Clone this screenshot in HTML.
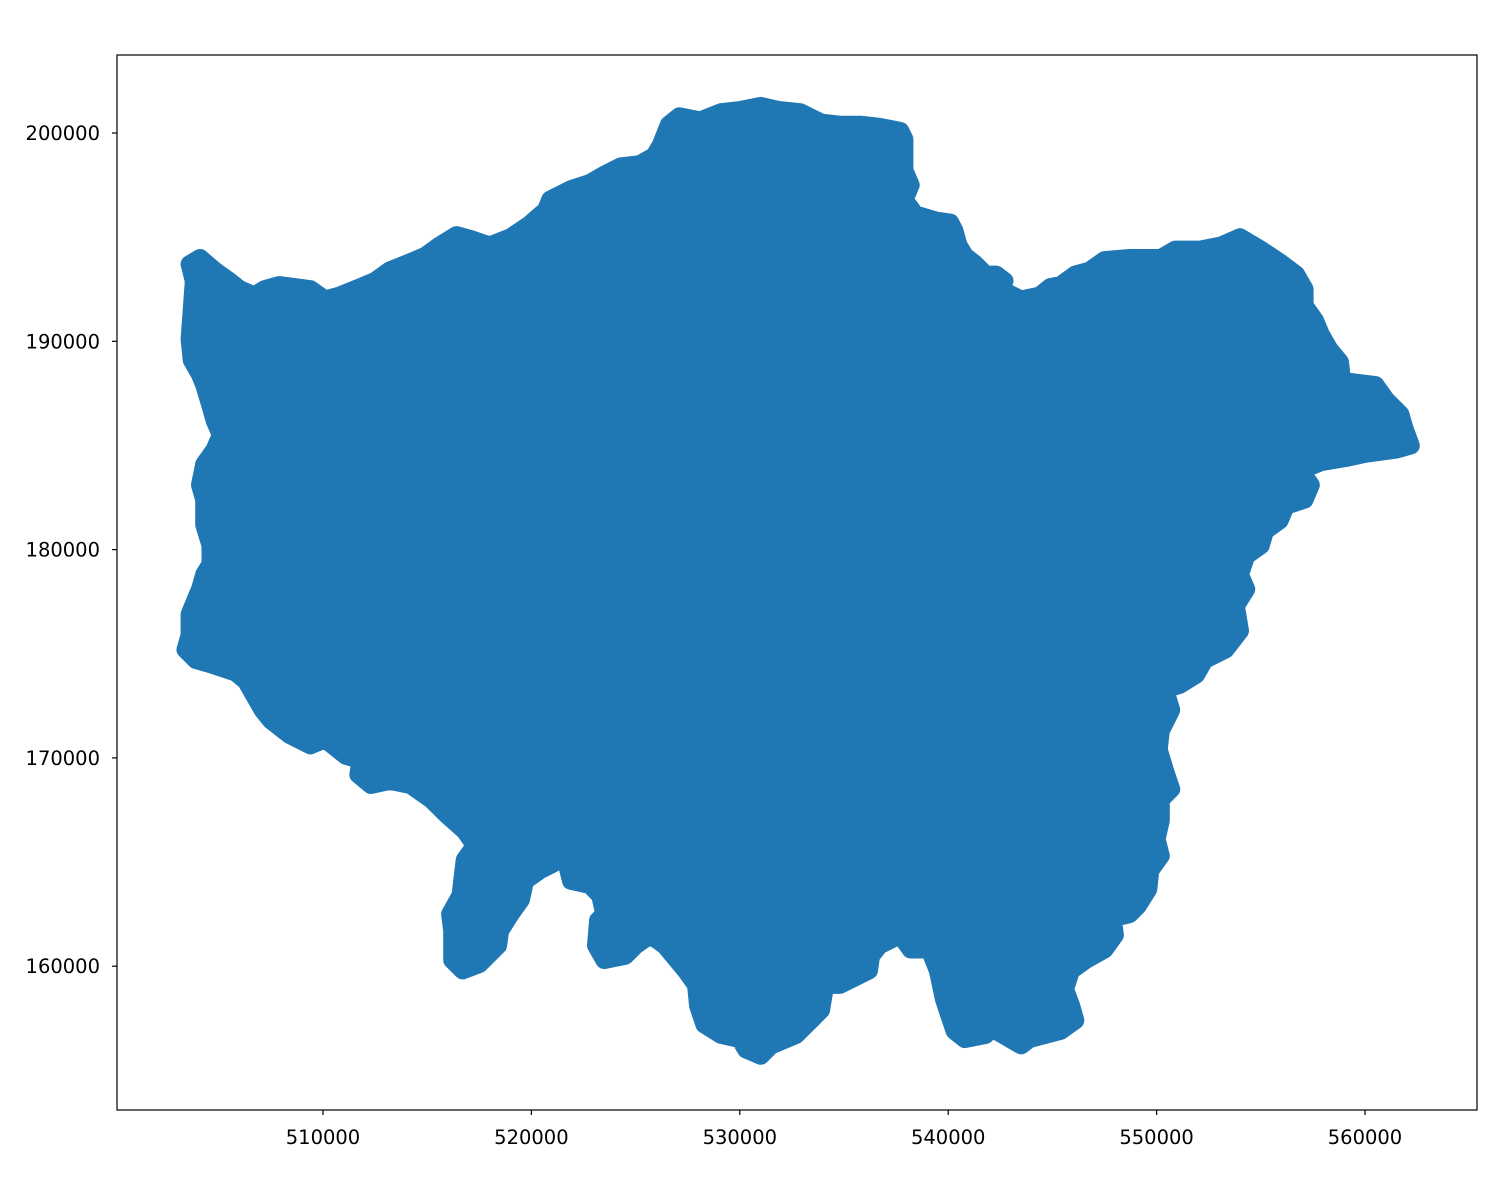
<!DOCTYPE html>
<html><head><meta charset="utf-8">
<style>
html,body{margin:0;padding:0;background:#fff;}
svg{display:block;font-family:"DejaVu Sans","Liberation Sans",sans-serif;}
</style></head>
<body>
<svg id="chart" width="1500" height="1200" viewBox="0 0 1500 1200" xmlns="http://www.w3.org/2000/svg">
<rect x="0" y="0" width="1500" height="1200" fill="#fff"/>
<g id="plot"></g>
<g id="axes"></g>
</svg>
<script>
// outline of London boundary, in km (easting, northing)
const eastingKm = [526.6,527.1,528.1,529.1,530.0,531.0,531.9,532.9,533.9,534.8,535.8,536.7,537.7,537.9,537.9,538.2,537.9,538.4,539.4,540.1,540.3,540.5,540.8,541.3,541.8,542.3,542.7,542.5,543.5,544.4,544.9,545.4,546.1,546.8,547.5,548.7,550.2,550.9,552.1,553.1,554.0,555.0,555.9,556.7,557.1,557.1,557.6,557.9,558.3,558.8,558.9,560.5,561.0,561.7,561.9,562.2,561.5,560.0,559.1,557.9,556.9,557.4,557.1,556.2,555.9,555.2,555.0,554.3,554.0,554.3,553.8,554.0,553.3,552.3,551.9,551.1,550.4,550.7,550.2,550.1,550.4,550.7,550.2,550.2,550.0,550.2,549.7,549.6,549.1,548.7,547.9,548.0,547.5,546.6,545.9,545.6,545.9,546.1,545.4,543.9,543.5,542.3,542.0,541.8,540.8,540.3,539.8,539.5,539.1,538.2,537.7,536.7,536.3,536.2,534.8,534.1,533.9,533.4,532.7,531.5,531.0,530.3,530.0,529.1,528.3,528.0,527.9,527.4,526.4,525.7,525.0,524.5,523.5,523.1,523.2,523.5,523.3,522.8,521.9,521.6,521.0,520.4,519.7,519.5,519.0,518.5,518.4,517.5,516.7,516.2,516.2,516.1,516.6,516.8,517.3,516.8,515.9,515.2,514.2,513.2,512.3,511.7,511.8,511.1,510.1,509.4,508.4,507.5,507.1,506.7,506.3,505.8,504.6,503.9,503.4,503.6,503.6,504.1,504.3,504.6,504.6,504.3,504.3,504.1,504.3,504.8,505.1,504.8,504.6,504.3,504.1,503.7,503.6,503.7,503.8,503.6,504.1,504.8,505.5,506.0,506.7,507.2,507.9,509.4,510.1,510.8,511.8,512.5,513.2,514.2,514.9,515.6,516.4,517.1,518.0,519.0,519.9,520.7,520.9,521.9,522.8,523.5,524.3,525.2,525.9,526.2];
const northingKm = [200.4,200.8,200.6,201.0,201.1,201.3,201.1,201.0,200.5,200.4,200.4,200.3,200.1,199.7,198.2,197.5,196.8,196.1,195.8,195.7,195.3,194.6,194.1,193.7,193.2,193.2,192.9,192.5,192.0,192.2,192.6,192.7,193.2,193.4,193.9,194.0,194.0,194.4,194.4,194.6,195.0,194.4,193.8,193.2,192.5,191.7,191.0,190.3,189.6,189.0,188.1,187.9,187.2,186.5,185.8,185.0,184.8,184.6,184.4,184.2,183.8,183.1,182.4,182.1,181.4,180.9,180.2,179.7,178.8,178.1,177.3,176.1,175.2,174.7,174.0,173.5,173.3,172.3,171.3,170.4,169.4,168.5,168.0,167.0,166.1,165.3,164.6,163.7,162.9,162.5,162.3,161.5,160.8,160.3,159.8,158.9,158.1,157.4,156.9,156.5,156.2,156.9,157.9,156.7,156.5,156.9,158.4,159.8,160.8,160.8,161.5,161.0,160.5,159.8,159.1,159.1,157.9,157.4,156.7,156.2,155.7,156.0,156.5,156.7,157.2,158.1,159.1,159.8,161.0,161.5,161.0,160.5,160.3,161.0,162.2,162.5,163.4,163.9,164.1,165.3,164.9,164.6,164.1,163.2,162.5,161.7,161.0,160.1,159.8,160.3,161.7,162.5,163.4,165.1,165.8,166.5,167.3,168.0,168.7,168.9,168.7,169.2,169.9,170.1,170.9,170.6,171.1,171.8,172.3,173.0,173.7,174.1,174.5,174.7,175.2,175.9,176.9,178.1,178.8,179.3,180.2,181.2,182.4,183.1,184.1,184.8,185.5,186.2,186.9,187.9,188.4,189.1,190.1,191.5,192.9,193.7,194.0,193.4,192.9,192.5,192.2,192.5,192.7,192.5,192.0,192.2,192.6,192.9,193.4,193.8,194.1,194.6,195.1,194.9,194.6,195.0,195.6,196.3,196.8,197.3,197.6,198.0,198.4,198.5,198.9,199.4];
const xTicks = [510000,520000,530000,540000,550000,560000];
const yTicks = [160000,170000,180000,190000,200000];

const NS = "http://www.w3.org/2000/svg";
const AX = {left:117, right:1477, top:55, bottom:1110};
function xs(m){ return 323 + (m - 510000) * 0.02084; }
function ys(m){ return 133 - (m - 200000) * 0.02083; }

const plot = document.getElementById('plot');
const axes = document.getElementById('axes');

let d = '';
for (let i = 0; i < eastingKm.length; i++) {
  d += (i ? 'L' : 'M') + xs(eastingKm[i]*1000).toFixed(1) + ',' + ys(northingKm[i]*1000).toFixed(1);
}
d += 'Z';
const poly = document.createElementNS(NS,'path');
poly.setAttribute('d', d);
poly.setAttribute('fill', '#1f77b4');
poly.setAttribute('stroke', '#1f77b4');
poly.setAttribute('stroke-width', '18');
poly.setAttribute('stroke-linejoin', 'round');


plot.appendChild(poly);

const frame = document.createElementNS(NS,'rect');
frame.setAttribute('x', AX.left); frame.setAttribute('y', AX.top);
frame.setAttribute('width', AX.right-AX.left); frame.setAttribute('height', AX.bottom-AX.top);
frame.setAttribute('fill','none'); frame.setAttribute('stroke','#000'); frame.setAttribute('stroke-width','1.2');


axes.appendChild(frame);

xTicks.forEach(v => {
  const x = xs(v);
  const t = document.createElementNS(NS,'line');
  t.setAttribute('x1',x); t.setAttribute('x2',x); t.setAttribute('y1',AX.bottom); t.setAttribute('y2',AX.bottom+5);
  t.setAttribute('stroke','#000'); t.setAttribute('stroke-width','1.2');
  
  
  axes.appendChild(t);
  const l = document.createElementNS(NS,'text');
  l.setAttribute('x',x); l.setAttribute('y',AX.bottom+34);
  l.setAttribute('text-anchor','middle'); l.setAttribute('font-size','19.5');
  l.textContent = v;
  
  
  axes.appendChild(l);
});
yTicks.forEach(v => {
  const y = ys(v);
  const t = document.createElementNS(NS,'line');
  t.setAttribute('x1',AX.left-5); t.setAttribute('x2',AX.left); t.setAttribute('y1',y); t.setAttribute('y2',y);
  t.setAttribute('stroke','#000'); t.setAttribute('stroke-width','1.2');
  
  
  axes.appendChild(t);
  const l = document.createElementNS(NS,'text');
  l.setAttribute('x',AX.left-17); l.setAttribute('y',y+7);
  l.setAttribute('text-anchor','end'); l.setAttribute('font-size','19.5');
  l.textContent = v;
  
  
  axes.appendChild(l);
});
</script>
</body></html>
